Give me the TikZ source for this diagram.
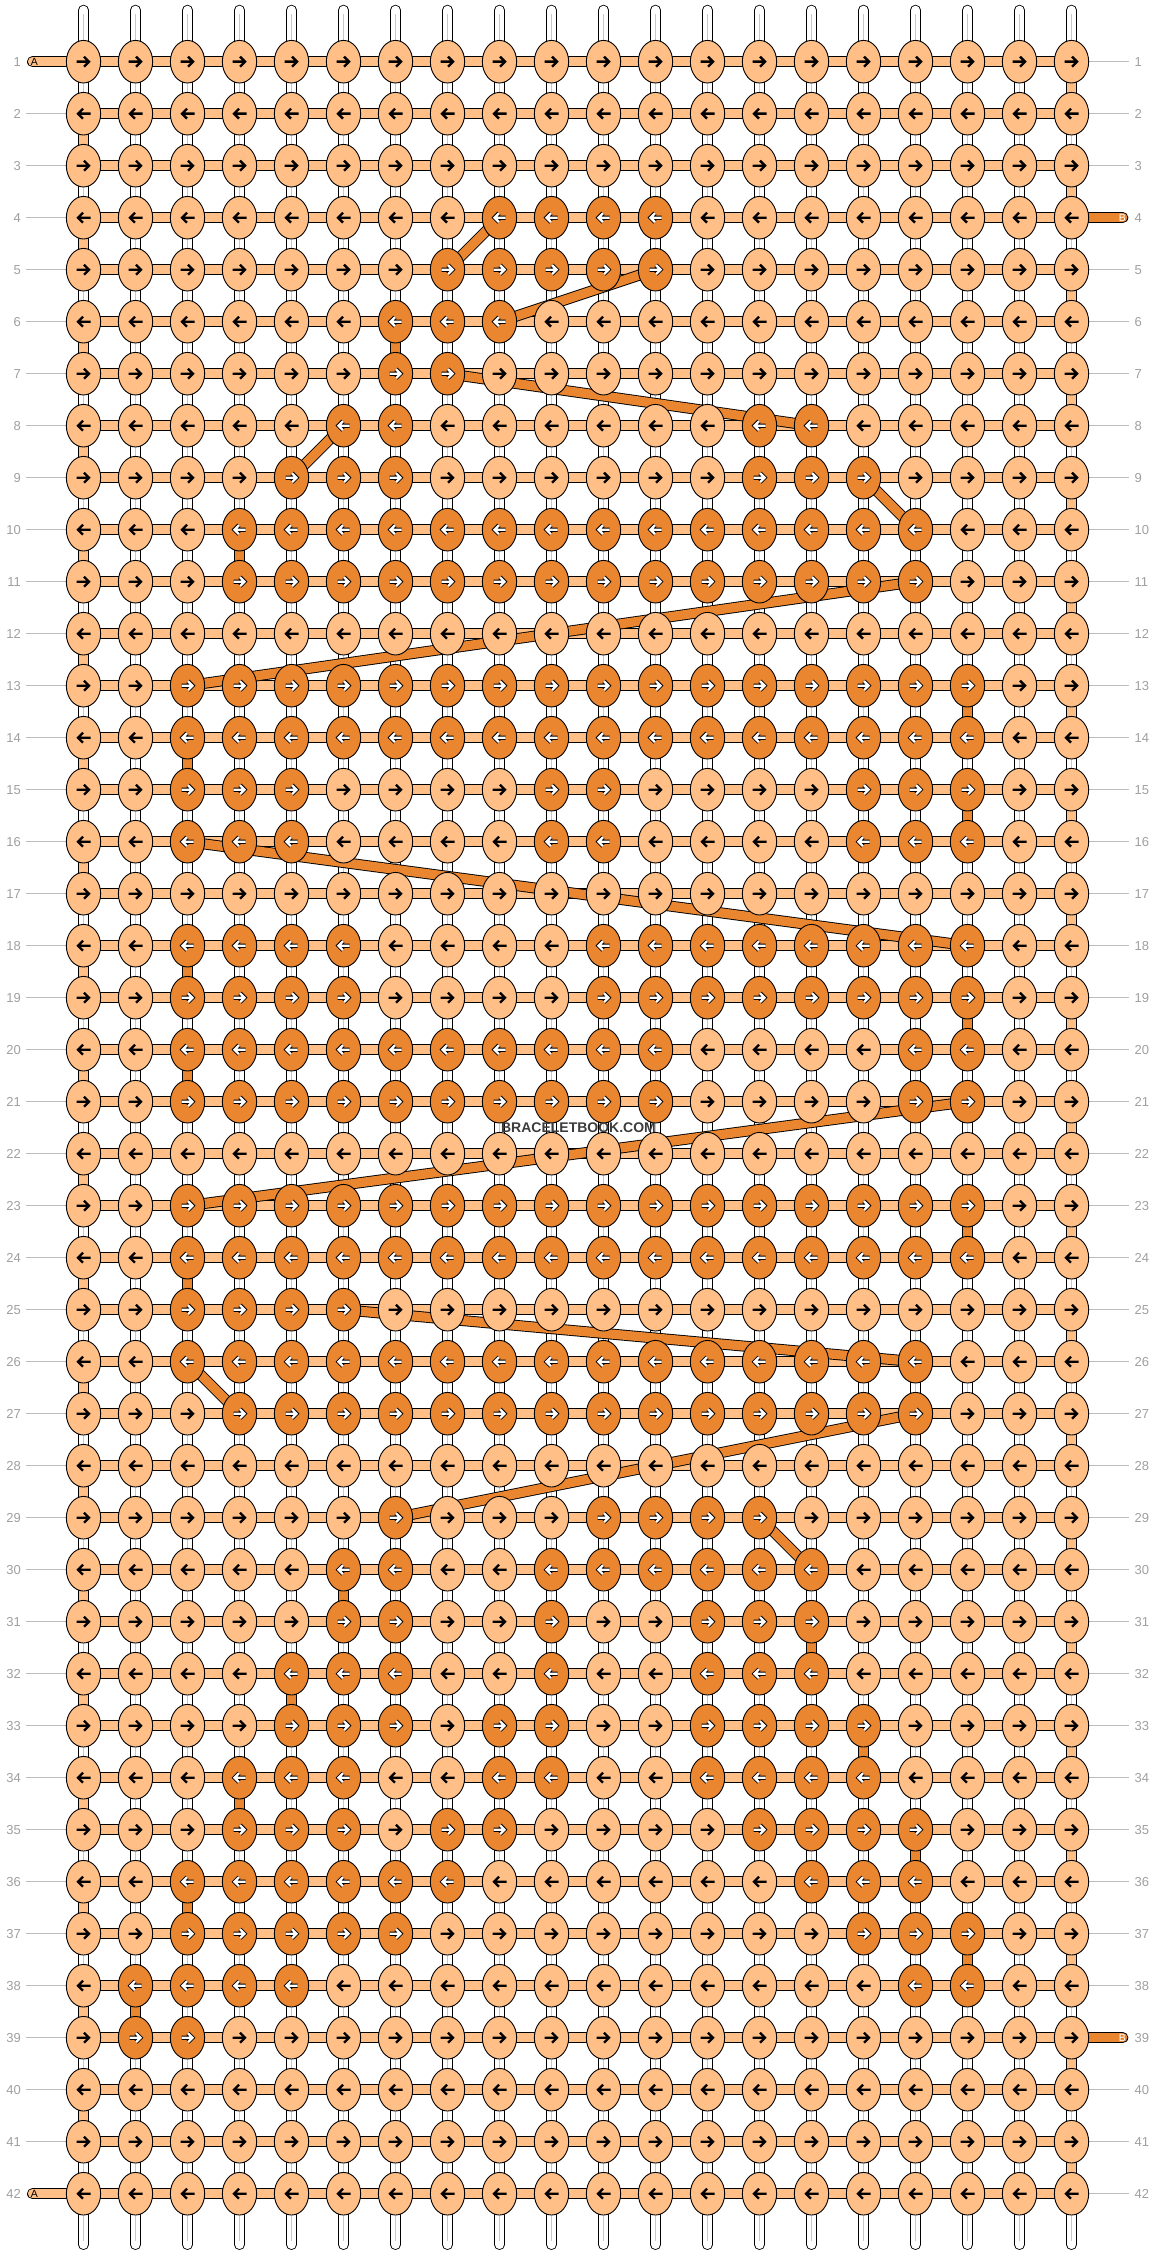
\documentclass[tikz,border=0pt]{standalone}
\usepackage{fontspec}
\setmainfont{Liberation Sans}
\usetikzlibrary{shapes.geometric}
\definecolor{lt}{HTML}{FFBF86}
\definecolor{dk}{HTML}{EA862F}
\definecolor{lblc}{HTML}{A0A0A0}
\definecolor{lnc}{HTML}{BDBDBD}
\definecolor{wgray}{HTML}{C8C8C8}
\definecolor{wmk}{HTML}{3C3C3C}
\begin{document}
\begin{tikzpicture}[x=1pt,y=-1pt,
  knotlight/.style={ellipse, draw=black, line width=0.9pt, fill=lt, minimum width=34.3pt, minimum height=42.6pt, inner sep=0pt, outer sep=0pt},
  knotdark/.style={knotlight, fill=dk},
  lthread/.style={draw=black, line width=0.9pt, double=lt, double distance=9.2pt},
  dthread/.style={draw=black, line width=0.9pt, double=dk, double distance=9.2pt},
  warpout/.style={draw=black, line width=10.7pt, line cap=round},
  warpin/.style={draw=white, line width=8.9pt, line cap=round},
  warpmid/.style={draw=wgray, line width=1pt},
  rowlbl/.style={text=lblc, inner sep=0pt, font=\fontsize{13}{13}\selectfont},
  lblline/.style={draw=lnc, line width=0.9pt},
  endlbl/.style={inner sep=0pt, font=\fontsize{10.5}{10.5}\selectfont},
  arrowlight/.style={draw=black, line width=2.4pt},
  arrowdarkout/.style={draw=black, line width=4.2pt, line cap=square},
  arrowdarkin/.style={draw=white, line width=2.4pt, line cap=square},
]
\useasboundingbox (0,0) rectangle (1156,2256);
\fill[white] (0,0) rectangle (1156,2256);

% dark knot lookup
\foreach \ri/\lst in {4/{9,10,11,12},5/{8,9,10,11,12},6/{7,8,9},7/{7,8},8/{6,7,14,15},9/{5,6,7,14,15,16},
  10/{4,...,17},11/{4,...,17},13/{3,...,18},14/{3,...,18},
  15/{3,4,5,10,11,16,17,18},16/{3,4,5,10,11,16,17,18},
  18/{3,4,5,6,11,12,13,14,15,16,17,18},19/{3,4,5,6,11,12,13,14,15,16,17,18},
  20/{3,4,5,6,7,8,9,10,11,12,17,18},21/{3,4,5,6,7,8,9,10,11,12,17,18},
  23/{3,...,18},24/{3,...,18},25/{3,4,5,6},26/{3,...,17},27/{4,...,17},
  29/{7,11,12,13,14},30/{6,7,10,11,12,13,14,15},31/{6,7,10,13,14,15},32/{5,6,7,10,13,14,15},
  33/{5,6,7,9,10,13,14,15,16},34/{4,5,6,9,10,13,14,15,16},35/{4,5,6,8,9,14,15,16,17},
  36/{3,4,5,6,7,8,15,16,17},37/{3,4,5,6,7,16,17,18},38/{2,3,4,5,17,18},39/{2,3}}{%
  \foreach \ci in \lst {\expandafter\xdef\csname dk@\ri @\ci\endcsname{1}}}

% knot coordinates
\foreach \ri in {1,...,42}{\foreach \ci in {1,...,20}{%
  \coordinate (k-\ri-\ci) at ({83.5+52*(\ci-1)},{61.7+52*(\ri-1)});}}

% warps
\foreach \ci in {1,...,20}{%
  \coordinate (wt-\ci) at ({83.5+52*(\ci-1)},10.1);
  \coordinate (wb-\ci) at ({83.5+52*(\ci-1)},2244.6);
  \draw[warpout] (wt-\ci) -- (wb-\ci);
  \draw[warpin] (wt-\ci) -- (wb-\ci);
  \draw[warpmid] ([yshift=-4pt]wt-\ci) -- ([yshift=4pt]wb-\ci);
}

% label lines
\foreach \ri in {2,...,41}{%
  \coordinate (ll-\ri) at (26,{61.7+52*(\ri-1)});
  \draw[lblline] (ll-\ri) -- ([xshift=-17pt]k-\ri-1);}
\foreach \ri in {1,2,3,5,6,7,8,9,10,11,12,13,14,15,16,17,18,19,20,21,22,23,24,25,26,27,28,29,30,31,32,33,34,35,36,37,38,40,41,42}{%
  \coordinate (rl-\ri) at (1129,{61.7+52*(\ri-1)});
  \draw[lblline] ([xshift=17pt]k-\ri-20) -- (rl-\ri);}

% horizontal working threads
\foreach \ri in {1,...,42}{\draw[lthread] (k-\ri-1) -- (k-\ri-20);}

% turns of thread A
\foreach \ri in {1,3,...,41}{\pgfmathtruncatemacro\rn{\ri+1}\draw[lthread] (k-\ri-20) -- (k-\rn-20);}
\foreach \ri in {2,4,...,40}{\pgfmathtruncatemacro\rn{\ri+1}\draw[lthread] (k-\ri-1) -- (k-\rn-1);}

% thread ends
\coordinate (ain) at (32.5,61.7);
\coordinate (aout) at (32.5,2193.7);
\coordinate (bin) at (1122.8,217.7);
\coordinate (bout) at (1122.8,2037.7);
\draw[lthread, line cap=round] (ain) -- (k-1-1);
\draw[lthread, line cap=round] (aout) -- (k-42-1);
\draw[dthread, line cap=round] (k-4-20) -- (bin);
\draw[dthread, line cap=round] (k-39-20) -- (bout);

% thread B between rows
\foreach \ra/\ca/\rb/\cb in {4/9/5/8,5/12/6/9,6/7/7/7,7/8/8/15,8/6/9/5,9/16/10/17,10/4/11/4,11/17/13/3,
  13/18/14/18,14/3/15/3,15/18/16/18,16/3/18/18,18/3/19/3,19/18/20/18,20/3/21/3,21/18/23/3,
  23/18/24/18,24/3/25/3,25/6/26/17,26/3/27/4,27/17/29/7,29/14/30/15,30/6/31/6,31/15/32/15,
  32/5/33/5,33/16/34/16,34/4/35/4,35/17/36/17,36/3/37/3,37/18/38/18,38/2/39/2}{%
  \draw[dthread] (k-\ra-\ca) -- (k-\rb-\cb);}

% knots
\foreach \ri in {1,...,42}{%
  \ifodd\ri \def\dir{1}\else\def\dir{-1}\fi
  \foreach \ci in {1,...,20}{%
    \ifcsname dk@\ri @\ci\endcsname
      \node[knotdark] (n-\ri-\ci) at (k-\ri-\ci) {};
      \draw[arrowdarkout, shift={(k-\ri-\ci)}, xscale=\dir] (-6,0) -- (5,0) (0.5,-4.5) -- (5,0) -- (0.5,4.5);
      \draw[arrowdarkin, shift={(k-\ri-\ci)}, xscale=\dir] (-6,0) -- (5,0) (0.5,-4.5) -- (5,0) -- (0.5,4.5);
    \else
      \node[knotlight] (n-\ri-\ci) at (k-\ri-\ci) {};
      \draw[arrowlight, shift={(k-\ri-\ci)}, xscale=\dir] (-7,0) -- (5.5,0) (0.5,-5) -- (5.5,0) -- (0.5,5);
    \fi
  }
}

% row labels
\foreach \ri in {1,...,42}{%
  \node[rowlbl, anchor=east] (L-\ri) at (21,{61.7+52*(\ri-1)}) {\ri};
  \node[rowlbl, anchor=west] (R-\ri) at (1134.5,{61.7+52*(\ri-1)}) {\ri};
}

% thread end letters
\node[endlbl] (lA1) at (34.5,61.7) {A};
\node[endlbl] (lA2) at (34.5,2193.7) {A};
\node[endlbl, text=white] (lB1) at (1122.3,217.7) {B};
\node[endlbl, text=white] (lB2) at (1122.3,2037.7) {B};

% watermark
\node[font=\bfseries\fontsize{14}{14}\selectfont, text=wmk, inner sep=0pt] (wm) at (578.5,1128) {BRACELETBOOK.COM};
\end{tikzpicture}
\end{document}
